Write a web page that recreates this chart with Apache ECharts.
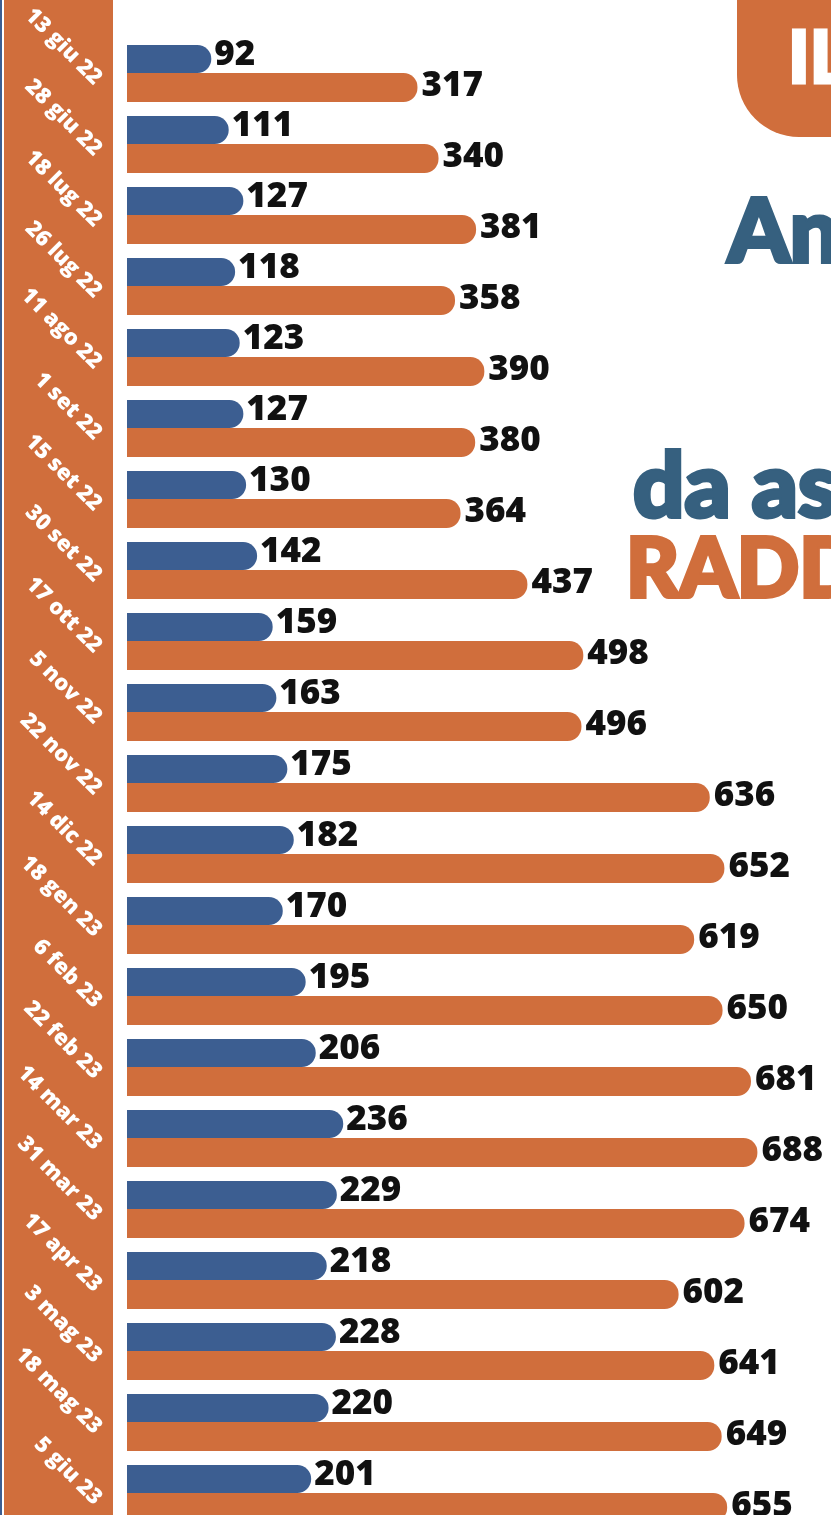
<!DOCTYPE html>
<html><head><meta charset="utf-8">
<script src="https://cdn.jsdelivr.net/npm/echarts@6/dist/echarts.min.js"></script>
<style>html,body{margin:0;padding:0;background:#fff;}#wrap{position:relative;width:831px;height:1515px;overflow:hidden;}#c{width:900px;height:1560px;}</style>
</head><body><div id="wrap"><div id="c"></div></div>
<script>
const dates = ['13 giu 22','28 giu 22','18 lug 22','26 lug 22','11 ago 22','1 set 22','15 set 22','30 set 22','17 ott 22','5 nov 22','22 nov 22','14 dic 22','18 gen 23','6 feb 23','22 feb 23','14 mar 23','31 mar 23','17 apr 23','3 mag 23','18 mag 23','5 giu 23'];
const blueValues = [92,111,127,118,123,127,130,142,159,163,175,182,170,195,206,236,229,218,228,220,201];
const orangeValues = [317,340,381,358,390,380,364,437,498,496,636,652,619,650,681,688,674,602,641,649,655];

const BLUE = '#3c5e91';
const ORANGE = '#d06e3c';
const TBLUE = '#36607f';
const chart = echarts.init(document.getElementById('c'), null, {renderer:'canvas'});
const labelFont = {fontFamily:'Open Sans', fontWeight:800, fontSize:35, color:'#111'};
const heavy = '"Lato Black", Lato';
chart.setOption({
  animation:false,
  grid:[
    {left:127, top:38, width:733, height:1491},
    {left:127, top:46, width:733, height:1491}
  ],
  xAxis:[
    {gridIndex:0, type:'value', min:0, max:800, show:false},
    {gridIndex:1, type:'value', min:0, max:800, show:false}
  ],
  yAxis:[
    {gridIndex:0, type:'category', data:dates, inverse:true, show:false},
    {gridIndex:1, type:'category', data:dates, inverse:true,
     axisLine:{show:false}, axisTick:{show:false}, splitLine:{show:false},
     axisLabel:{rotate:-45, margin:29, color:'#fff', fontFamily:'Open Sans', fontWeight:800, fontSize:22, interval:0}}
  ],
  graphic:[
    {type:'rect', shape:{x:0,y:0,width:2,height:1560}, style:{fill:BLUE}, z:-10},
    {type:'rect', shape:{x:4,y:0,width:109,height:1560}, style:{fill:ORANGE}, z:-10},
    {type:'rect', shape:{x:737,y:-80,width:200,height:217,r:[0,0,0,62]}, style:{fill:ORANGE}, z:-5},
    {type:'text', x:788, y:24, style:{text:'IL', fill:'#fff', stroke:'#fff', lineWidth:3, font:'900 72px ' + heavy, shadowColor:'rgba(90,30,0,0.55)', shadowBlur:8, shadowOffsetX:4, shadowOffsetY:4}, z:-4},
    {type:'text', x:728, y:190, style:{text:'Andamento', fill:TBLUE, stroke:TBLUE, lineWidth:4, font:'900 88px ' + heavy}, z:-4},
    {type:'text', x:633, y:443, style:{text:'da aspettative', fill:TBLUE, stroke:TBLUE, lineWidth:4, font:'900 90px ' + heavy}, z:-4},
    {type:'text', x:626, y:530, style:{text:'RADDOPPIATE', fill:ORANGE, stroke:ORANGE, lineWidth:4, font:'900 82px ' + heavy}, z:-4}
  ],
  series:[
    {type:'bar', xAxisIndex:0, yAxisIndex:0, data:blueValues, barWidth:28, barGap:'0%',
     itemStyle:{color:BLUE, borderRadius:[0,14,14,0]},
     label:{show:true, position:'right', distance:3, offset:[0,-4], ...labelFont}},
    {type:'bar', xAxisIndex:0, yAxisIndex:0, data:orangeValues, barWidth:29, barGap:'0%',
     itemStyle:{color:ORANGE, borderRadius:[0,14,14,0]},
     label:{show:true, position:'right', distance:4, offset:[0,-1], ...labelFont}}
  ]
});
</script></body></html>
